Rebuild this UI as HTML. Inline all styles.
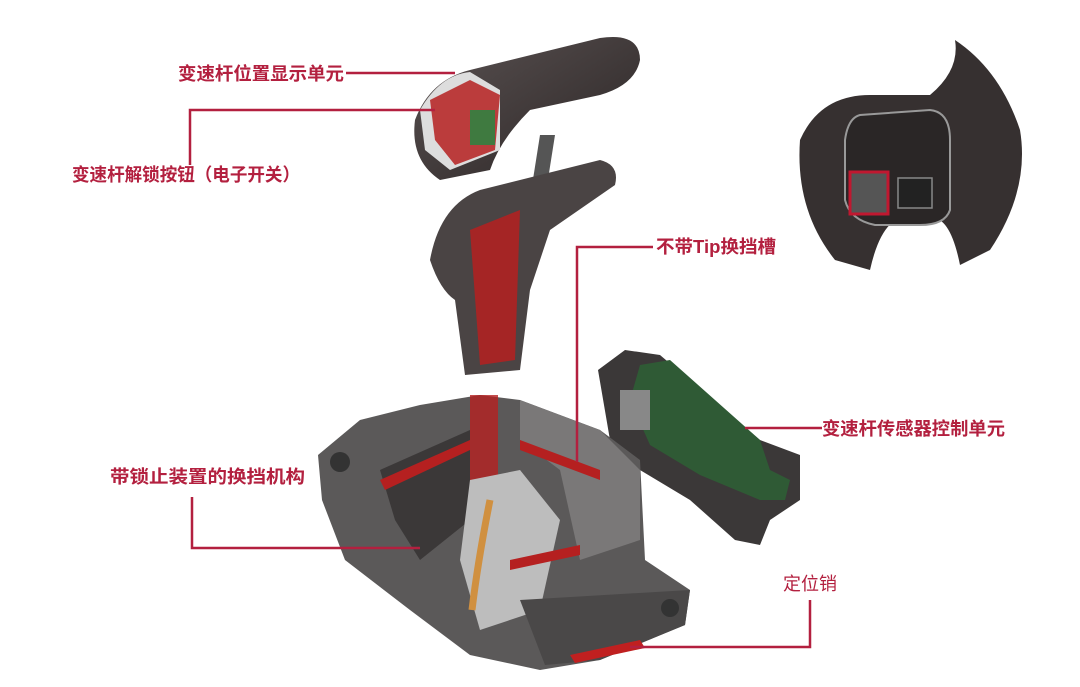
<!DOCTYPE html>
<html><head><meta charset="utf-8"><style>
html,body{margin:0;padding:0;background:#fff;}
svg{display:block;}
text{font-family:"Liberation Sans","Noto Sans CJK SC",sans-serif;font-weight:bold;fill:#b3203f;font-size:18px;}
</style></head><body>
<svg width="1080" height="687" viewBox="0 0 1080 687" xmlns="http://www.w3.org/2000/svg">
<defs>
<linearGradient id="knob" x1="0" y1="0" x2="1" y2="1"><stop offset="0" stop-color="#5a5252"/><stop offset="1" stop-color="#2a2424"/></linearGradient>
</defs>
<!-- steering wheel -->
<path d="M800,140 Q820,95 870,95 L930,95 Q960,70 955,40 Q1000,70 1020,130 Q1030,190 990,250 L960,265 Q950,215 930,218 L900,218 Q880,225 870,270 L835,260 Q795,210 800,140Z" fill="#363030"/>
<path d="M860,115 L930,110 Q950,112 950,140 L950,210 Q945,225 920,225 L875,225 Q850,220 845,200 L845,140 Q848,118 860,115Z" fill="#2a2626" stroke="#999" stroke-width="2"/>
<rect x="850" y="172" width="38" height="42" fill="#555" stroke="#c01830" stroke-width="3"/>
<rect x="898" y="178" width="34" height="30" fill="#222" stroke="#888" stroke-width="1.5"/>
<!-- knob top -->
<path d="M415,120 Q430,80 470,70 L600,38 Q640,32 640,60 Q635,85 600,95 L530,110 Q500,140 490,170 L440,180 Q410,160 415,120Z" fill="url(#knob)"/>
<path d="M420,110 Q440,75 470,72 L500,90 L500,150 L450,170 L425,150Z" fill="#ddd"/>
<path d="M430,100 L470,80 L500,95 L495,150 L455,165 L435,140Z" fill="#b52020" opacity="0.85"/>
<rect x="470" y="110" width="25" height="35" fill="#3f7a40"/>
<!-- stem -->
<path d="M540,135 L555,135 L540,230 L525,230Z" fill="#555"/>
<!-- lever middle -->
<path d="M430,260 Q440,205 480,190 L600,160 Q620,165 615,185 L550,230 L530,290 L520,370 L465,375 L455,300 Q440,290 430,260Z" fill="#4a4444"/>
<path d="M470,230 L520,210 L515,360 L480,365Z" fill="#b52020" opacity="0.85"/>
<!-- sensor unit -->
<path d="M598,370 L625,350 L660,355 L760,440 L800,455 L800,500 L770,520 L760,545 L735,540 L690,500 L640,470 L610,440Z" fill="#3b3838"/>
<path d="M640,365 L670,360 L760,440 L770,470 L790,480 L785,500 L760,500 L700,475 L650,445 L630,400Z" fill="#2f5a35"/>
<rect x="620" y="390" width="30" height="40" fill="#888"/>
<!-- main housing -->
<path d="M318,455 L360,420 L420,405 L480,395 L520,400 L600,430 L640,460 L645,560 L690,590 L685,625 L600,660 L540,670 L470,655 L410,610 L345,560 L322,500Z" fill="#5b5959"/>
<path d="M520,400 L600,430 L640,470 L640,540 L580,560 L560,470 L520,440Z" fill="#7a7878"/>
<path d="M380,470 L470,430 L470,520 L420,560 L395,520Z" fill="#3b3838"/>
<rect x="470" y="395" width="28" height="180" fill="#b52020" opacity="0.8"/>
<path d="M470,480 L520,470 L560,520 L540,610 L480,630 L460,560Z" fill="#bdbdbd"/>
<path d="M490,500 Q478,560 472,610" stroke="#d09040" stroke-width="7" fill="none"/>
<path d="M380,480 L470,440 L470,450 L385,490Z" fill="#b52020"/>
<path d="M520,440 L600,470 L600,480 L520,450Z" fill="#b52020"/>
<path d="M510,560 L580,545 L580,555 L510,570Z" fill="#b52020"/>
<path d="M520,600 L690,590 L685,625 L600,660 L545,665Z" fill="#4a4848"/>
<path d="M570,655 L640,640 L645,648 L575,663Z" fill="#c02020"/>
<circle cx="340" cy="462" r="10" fill="#333"/>
<circle cx="670" cy="608" r="9" fill="#333"/>
<!-- connector lines -->
<g stroke="#b3203f" stroke-width="2.5" fill="none">
<path d="M346,73 L455,73"/>
<path d="M190,165 L190,110 L435,110"/>
<path d="M653,247 L577,247 L577,462"/>
<path d="M745,428 L822,428"/>
<path d="M192,497 L192,548 L420,548"/>
<path d="M810,600 L810,647 L630,647"/>
</g>
<text x="178" y="80" textLength="166" lengthAdjust="spacingAndGlyphs">变速杆位置显示单元</text>
<text x="72" y="181" textLength="228" lengthAdjust="spacingAndGlyphs">变速杆解锁按钮（电子开关）</text>
<text x="656" y="253" textLength="120" lengthAdjust="spacingAndGlyphs">不带Tip换挡槽</text>
<text x="822" y="435" textLength="183" lengthAdjust="spacingAndGlyphs">变速杆传感器控制单元</text>
<text x="110" y="483" textLength="195" lengthAdjust="spacingAndGlyphs">带锁止装置的换挡机构</text>
<text x="783" y="590" style="font-weight:normal" textLength="54" lengthAdjust="spacingAndGlyphs">定位销</text>
</svg>
</body></html>
